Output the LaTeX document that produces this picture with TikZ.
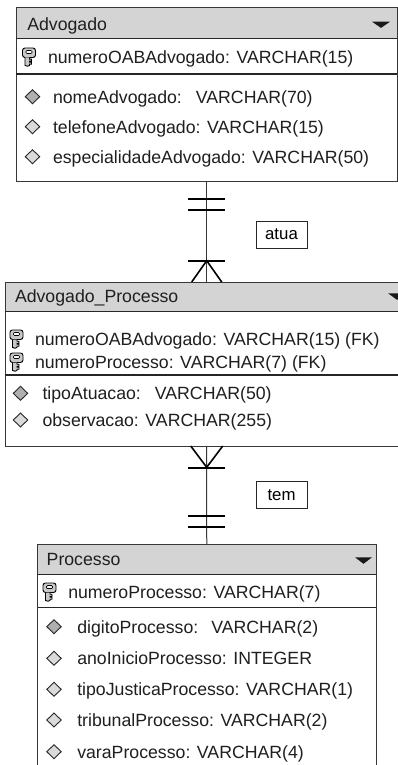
\documentclass[tikz,border=0pt]{standalone}
\usepackage{fontspec}
\setmainfont{Liberation Sans}
\usetikzlibrary{calc}
\definecolor{hdrgray}{RGB}{212,212,212}
\definecolor{dmdark}{RGB}{175,175,175}
\definecolor{dmlight}{RGB}{218,218,218}
\definecolor{keyfill}{RGB}{200,200,200}
\definecolor{linegray}{RGB}{55,55,55}
\begin{document}
\begin{tikzpicture}[x=1pt,y=-1pt,
  every node/.style={inner sep=0pt, outer sep=0pt},
  txt/.style={anchor=base west, font=\fontsize{17.7}{20}\selectfont, text=black!88},
  hdr/.style={anchor=north west, fill=hdrgray, draw=none},
  tbl/.style={anchor=north west, draw=linegray, line width=1pt},
  sep/.style={draw=black!85, line width=1.2pt},
  conn/.style={draw=linegray, line width=1pt},
  bar/.style={draw=black, line width=2pt},
  crow/.style={draw=black, line width=1.6pt},
  lbl/.style={draw=black!85, line width=0.8pt, minimum width=51pt, minimum height=27pt, font=\fontsize{16.8}{20}\selectfont},
  tri/.style={fill=black!90},
  keyicon/.pic={
    \filldraw[fill=keyfill, draw=black, line width=0.9pt, rounded corners=2.5pt] (-6.5,-9) rectangle (6.5,0.5);
    \filldraw[fill=white, draw=black, line width=0.7pt, rounded corners=1pt] (-3,-6.5) rectangle (3,-3.5);
    \filldraw[fill=keyfill, draw=black, line width=0.9pt] (-4,0.5) -- (-4,8.5) -- (-1.5,9.2) -- (0.5,8.5) -- (0.5,7.2) -- (2.5,7.2) -- (2.5,5.2) -- (0.5,5.2) -- (0.5,4.2) -- (2.5,4.2) -- (2.5,2.2) -- (0.5,2.2) -- (0.5,0.5);
  },
  dmdA/.pic={
    \filldraw[fill=dmdark, draw=black!85, line width=0.9pt] (0,-7) -- (7.2,0) -- (0,7) -- (-7.2,0) -- cycle;
  },
  dmdB/.pic={
    \filldraw[fill=dmlight, draw=black!85, line width=0.9pt] (0,-7) -- (7.2,0) -- (0,7) -- (-7.2,0) -- cycle;
  }
]
\useasboundingbox (0,0) rectangle (398,765);
\clip (0,0) rectangle (398,765);
\fill[white] (0,0) rectangle (398,765);

% ---------------- Advogado ----------------
\node[hdr, minimum width=381.4pt, minimum height=30.3pt] (advH) at (16,8) {};
\node[tbl, minimum width=381.4pt, minimum height=173pt] (adv) at (16,8) {};
\draw[sep] (advH.south west) -- (advH.south east);
\draw[sep] (16,74) -- (397.4,74);
\fill[tri] (372,21.7) -- (390,21.7) -- (381,27.9) -- cycle;
\node[txt] (advT) at (27.3,30.6) {Advogado};
\pic at (29,57) {keyicon};
\node[txt] (adv1) at (48,64) {numeroOABAdvogado: VARCHAR(15)};
\pic at (32.5,96.7) {dmdA};
\node[txt] (adv2) at (53,103) {nomeAdvogado:\hspace{14pt}VARCHAR(70)};
\pic at (32.5,126.7) {dmdB};
\node[txt] (adv3) at (53,133) {telefoneAdvogado: VARCHAR(15)};
\pic at (32.5,156.7) {dmdB};
\node[txt] (adv4) at (53,163) {especialidadeAdvogado: VARCHAR(50)};

% ---------------- Advogado_Processo ----------------
\node[hdr, minimum width=403.4pt, minimum height=29.7pt] (apH) at (5,282) {};
\node[tbl, minimum width=403.4pt, minimum height=164pt] (ap) at (5,282) {};
\draw[sep] (apH.south west) -- (apH.south east);
\draw[sep] (5,375) -- (408.4,375);
\fill[tri] (388,293.3) -- (406,293.3) -- (397,299.8) -- cycle;
\node[txt] (apT) at (15,302) {Advogado\_Processo};
\pic at (16.5,339) {keyicon};
\node[txt] (ap1) at (35,345.3) {numeroOABAdvogado: VARCHAR(15) (FK)};
\pic at (16.5,362) {keyicon};
\node[txt] (ap2) at (35,368.5) {numeroProcesso: VARCHAR(7) (FK)};
\pic at (20.5,393.3) {dmdA};
\node[txt] (ap3) at (42.5,399.6) {tipoAtuacao:\hspace{14pt}VARCHAR(50)};
\pic at (20.5,420) {dmdB};
\node[txt] (ap4) at (42.5,426.3) {observacao: VARCHAR(255)};

% ---------------- Processo ----------------
\node[hdr, minimum width=338.5pt, minimum height=29.8pt] (procH) at (37.5,544.5) {};
\node[tbl, minimum width=338.5pt, minimum height=260pt] (proc) at (37.5,544.5) {};
\draw[sep] (procH.south west) -- (procH.south east);
\draw[sep] (37.5,607.7) -- (376,607.7);
\fill[tri] (355,557.3) -- (372,557.3) -- (363.5,563.8) -- cycle;
\node[txt] (procT) at (46.7,565.3) {Processo};
\pic at (49.5,592) {keyicon};
\node[txt] (proc1) at (68.3,598.5) {numeroProcesso: VARCHAR(7)};
\pic at (54,626.7) {dmdA};
\node[txt] (proc2) at (77.3,633) {digitoProcesso:\hspace{13pt}VARCHAR(2)};
\pic at (54,658.3) {dmdB};
\node[txt] (proc3) at (77.3,664.6) {anoInicioProcesso: INTEGER};
\pic at (54,689.3) {dmdB};
\node[txt] (proc4) at (77.3,695.6) {tipoJusticaProcesso: VARCHAR(1)};
\pic at (54,720) {dmdB};
\node[txt] (proc5) at (77.3,726.3) {tribunalProcesso: VARCHAR(2)};
\pic at (54,751.7) {dmdB};
\node[txt] (proc6) at (77.3,758) {varaProcesso: VARCHAR(4)};

% ---------------- connectors ----------------
\draw[conn] (adv.south) -- (ap.north);
\draw[bar] ($(adv.south)+(-18.7,18.3)$) -- ++(37.4,0);
\draw[bar] ($(adv.south)+(-18.7,29.3)$) -- ++(37.4,0);
\draw[bar] ($(ap.north)+(-18.7,-21.3)$) -- ++(37.4,0);
\draw[crow] ($(ap.north)+(-15,0)$) -- ($(ap.north)+(0,-21.3)$) -- ($(ap.north)+(15,0)$);
\node[lbl] (atua) at (281.5,234.5) {atua};

\draw[conn] (ap.south) -- (proc.north);
\draw[crow] ($(ap.south)+(-16,0)$) -- ($(ap.south)+(0,21.3)$) -- ($(ap.south)+(16,0)$);
\draw[bar] ($(ap.south)+(-18.7,22.3)$) -- ++(37.4,0);
\draw[bar] ($(proc.north)+(-18.7,-28.5)$) -- ++(37.4,0);
\draw[bar] ($(proc.north)+(-18.7,-17.2)$) -- ++(37.4,0);
\node[lbl] (tem) at (281.5,495) {tem};
\end{tikzpicture}
\end{document}
